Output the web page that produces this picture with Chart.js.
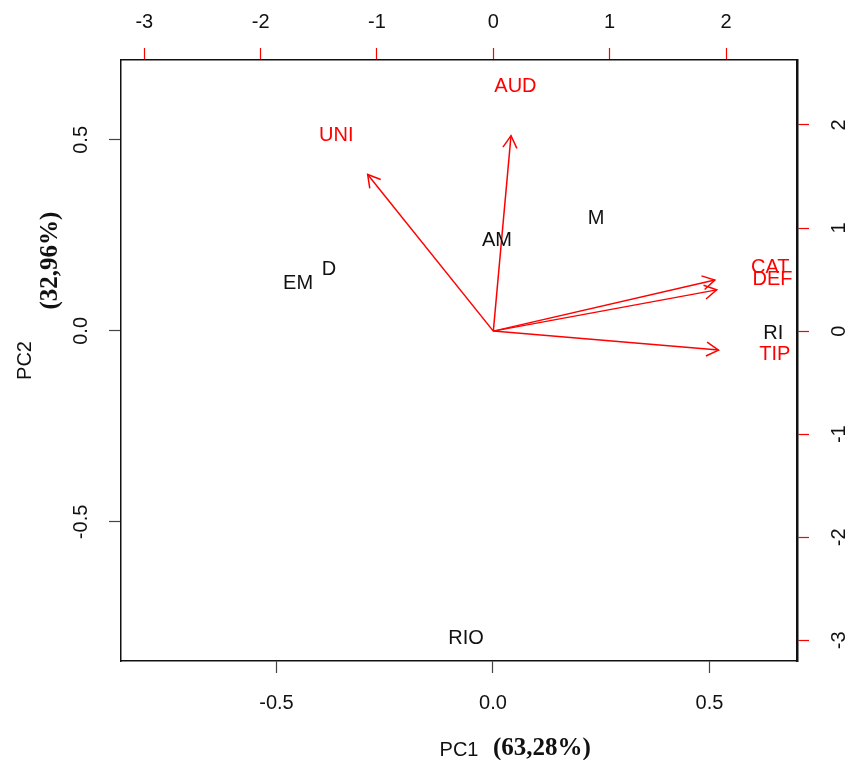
<!DOCTYPE html>
<html>
<head>
<meta charset="utf-8">
<script src="https://cdn.jsdelivr.net/npm/chart.js@4.4.1/dist/chart.umd.min.js"></script>
<style>
  html, body { margin: 0; padding: 0; background: #fff; }
  #biplot { display: block; }
</style>
</head>
<body>
<canvas id="biplot" width="853" height="760"></canvas>
<script>
// Puntuaciones de las observaciones (ejes inferior / izquierdo)
const obsLabels = ['AM', 'M', 'D', 'EM', 'RI', 'RIO'];
const obsPC1 = [0.009, 0.238, -0.379, -0.450, 0.647, -0.062];
const obsPC2 = [0.236, 0.293, 0.160, 0.123, -0.008, -0.804];

// Cargas de las variables (ejes superior / derecho)
const varLabels = ['AUD', 'UNI', 'CAT', 'DEF', 'TIP'];
const varPC1 = [0.19, -1.35, 2.38, 2.40, 2.42];
const varPC2 = [2.37, 1.90, 0.62, 0.50, -0.23];

// las flechas llegan al 80% de la carga, como hace biplot() en R
const arrowScale = 0.8;

const ticksPC1 = [-0.5, 0, 0.5];
const ticksPC2 = [-0.5, 0, 0.5];
const ticksTop = [-3, -2, -1, 0, 1, 2];
const ticksRight = [-3, -2, -1, 0, 1, 2];

const SANS = '"Liberation Sans", Arial, sans-serif';
const SERIF = '"Liberation Serif", "Times New Roman", serif';
const RED = '#ff0000';

const datasets = [{
    data: obsPC1.map((v, i) => ({ x: v, y: obsPC2[i] })),
    xAxisID: 'x',
    yAxisID: 'y',
    pointRadius: 0,
    showLine: false
}, {
    data: varPC1.map((v, i) => ({ x: v, y: varPC2[i] })),
    xAxisID: 'x2',
    yAxisID: 'y2',
    pointRadius: 0,
    showLine: false
}];

varLabels.forEach((lab, i) => {
    datasets.push({
        arrow: true,
        data: [{ x: 0, y: 0 }, { x: varPC1[i] * arrowScale, y: varPC2[i] * arrowScale }],
        xAxisID: 'x2',
        yAxisID: 'y2',
        showLine: true,
        borderColor: RED,
        borderWidth: 1.5,
        pointRadius: 0
    });
});

function fixedTicks(values) {
    return scale => { scale.ticks = values.map(v => ({ value: v })); };
}

function axisGrid(color) {
    return { drawOnChartArea: false, drawTicks: true, tickLength: 12, color: color, tickWidth: 1.2 };
}

const biplotLabels = {
    id: 'biplotLabels',
    afterDatasetsDraw(chart) {
        const ctx = chart.ctx;
        const { x, y, x2, y2 } = chart.scales;
        ctx.save();
        ctx.font = '20px ' + SANS;
        ctx.textAlign = 'center';
        ctx.textBaseline = 'middle';

        ctx.fillStyle = '#111';
        obsLabels.forEach((lab, i) => {
            ctx.fillText(lab, x.getPixelForValue(obsPC1[i]), y.getPixelForValue(obsPC2[i]));
        });

        ctx.fillStyle = RED;
        varLabels.forEach((lab, i) => {
            ctx.fillText(lab, x2.getPixelForValue(varPC1[i]), y2.getPixelForValue(varPC2[i]));
        });

        // puntas de flecha
        ctx.strokeStyle = RED;
        ctx.lineWidth = 1.5;
        const len = 14;
        chart.data.datasets.forEach((ds, i) => {
            if (!ds.arrow) return;
            const pts = chart.getDatasetMeta(i).data;
            const a = pts[0], b = pts[1];
            const ang = Math.atan2(b.y - a.y, b.x - a.x);
            ctx.beginPath();
            ctx.moveTo(b.x - len * Math.cos(ang - Math.PI / 6), b.y - len * Math.sin(ang - Math.PI / 6));
            ctx.lineTo(b.x, b.y);
            ctx.lineTo(b.x - len * Math.cos(ang + Math.PI / 6), b.y - len * Math.sin(ang + Math.PI / 6));
            ctx.stroke();
        });
        ctx.restore();
    },
    afterDraw(chart) {
        const ctx = chart.ctx;
        const area = chart.chartArea;
        ctx.save();
        ctx.fillStyle = '#111';
        ctx.textBaseline = 'alphabetic';

        // titulo eje X
        ctx.font = '20px ' + SANS;
        ctx.textAlign = 'center';
        ctx.fillText('PC1', (area.left + area.right) / 2, area.bottom + 95);
        ctx.font = 'bold 25px ' + SERIF;
        ctx.textAlign = 'left';
        ctx.fillText('(63,28%)', 493, area.bottom + 94);

        // titulo eje Y
        ctx.translate(31, (area.top + area.bottom) / 2);
        ctx.rotate(-Math.PI / 2);
        ctx.font = '20px ' + SANS;
        ctx.textAlign = 'center';
        ctx.fillText('PC2', 0, 0);
        ctx.font = 'bold 25px ' + SERIF;
        ctx.fillText('(32,96%)', 100, 26);
        ctx.restore();
    }
};

new Chart(document.getElementById('biplot'), {
    type: 'scatter',
    data: { datasets: datasets },
    options: {
        responsive: false,
        animation: false,
        layout: { padding: 0 },
        plugins: {
            legend: { display: false },
            tooltip: { enabled: false }
        },
        scales: {
            x: {
                type: 'linear',
                position: 'bottom',
                min: -0.859,
                max: 0.702,
                afterBuildTicks: fixedTicks(ticksPC1),
                afterFit: s => { s.height = 99; },
                ticks: {
                    callback: v => v.toFixed(1),
                    color: '#111',
                    font: { family: SANS, size: 20 },
                    padding: 18
                },
                grid: axisGrid('#444'),
                border: { display: true, color: '#111', width: 1.5 }
            },
            x2: {
                type: 'linear',
                position: 'top',
                min: -3.2,
                max: 2.61,
                afterBuildTicks: fixedTicks(ticksTop),
                afterFit: s => { s.height = 60; },
                ticks: {
                    callback: v => String(v),
                    color: '#111',
                    font: { family: SANS, size: 20 },
                    padding: 14
                },
                grid: axisGrid(RED),
                border: { display: true, color: '#111', width: 1.5 }
            },
            y: {
                type: 'linear',
                position: 'left',
                min: -0.864,
                max: 0.709,
                afterBuildTicks: fixedTicks(ticksPC2),
                afterFit: s => { s.width = 121; },
                ticks: {
                    callback: v => v.toFixed(1),
                    color: '#111',
                    font: { family: SANS, size: 20 },
                    minRotation: 90,
                    maxRotation: 90,
                    crossAlign: 'center',
                    padding: 10
                },
                grid: axisGrid('#444'),
                border: { display: true, color: '#111', width: 1.5 }
            },
            y2: {
                type: 'linear',
                position: 'right',
                min: -3.2,
                max: 2.63,
                afterBuildTicks: fixedTicks(ticksRight),
                afterFit: s => { s.width = 56; },
                ticks: {
                    callback: v => String(v),
                    color: '#111',
                    font: { family: SANS, size: 20 },
                    minRotation: 90,
                    maxRotation: 90,
                    crossAlign: 'center',
                    padding: 22
                },
                grid: axisGrid(RED),
                border: { display: true, color: '#111', width: 2.5 }
            }
        }
    },
    plugins: [biplotLabels]
});
</script>
</body>
</html>
